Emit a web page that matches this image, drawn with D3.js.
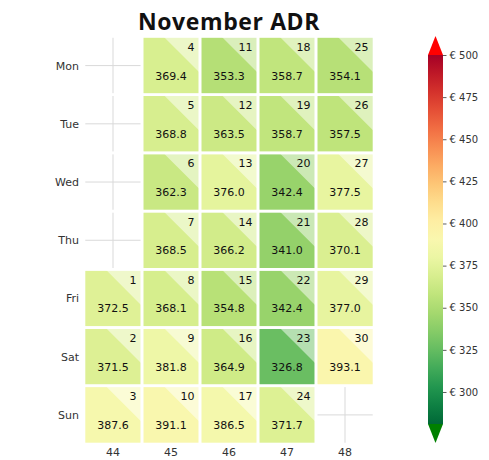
<!DOCTYPE html>
<html>
<head>
<meta charset="utf-8">
<script src="https://cdn.jsdelivr.net/npm/d3@7"></script>
<style>
  body { margin: 0; background: #fff; }
  svg { display: block; }
</style>
</head>
<body>
<svg id="chart" width="489" height="460"></svg>
<script>
// calendar data for November
const weeks = [44, 45, 46, 47, 48];
const weekdays = ["Mon", "Tue", "Wed", "Thu", "Fri", "Sat", "Sun"];
const dayNumbers = [1, 2, 3, 4, 5, 6, 7, 8, 9, 10, 11, 12, 13, 14, 15, 16, 17, 18, 19, 20, 21, 22, 23, 24, 25, 26, 27, 28, 29, 30];
const dayWeeks = [44, 44, 44, 45, 45, 45, 45, 45, 45, 45, 46, 46, 46, 46, 46, 46, 46, 47, 47, 47, 47, 47, 47, 47, 48, 48, 48, 48, 48, 48];
const dayWeekdays = ["Fri", "Sat", "Sun", "Mon", "Tue", "Wed", "Thu", "Fri", "Sat", "Sun", "Mon", "Tue", "Wed", "Thu", "Fri", "Sat", "Sun", "Mon", "Tue", "Wed", "Thu", "Fri", "Sat", "Sun", "Mon", "Tue", "Wed", "Thu", "Fri", "Sat"];
const adr = [372.5, 371.5, 387.6, 369.4, 368.8, 362.3, 368.5, 368.1, 381.8, 391.1, 353.3, 363.5, 376.0, 366.2, 354.8, 364.9, 386.5, 358.7, 358.7, 342.4, 341.0, 342.4, 326.8, 371.7, 354.1, 357.5, 377.5, 370.1, 377.0, 393.1];
const colorTicks = [300, 325, 350, 375, 400, 425, 450, 475, 500];
const colorMin = 281;
const colorMax = 500;

const days = dayNumbers.map((d, i) => ({
  day: d, week: dayWeeks[i], weekday: dayWeekdays[i], value: adr[i]
}));

const svg = d3.select("#chart");

const x = d3.scaleBand().domain(weeks).range([84, 374]);
const y = d3.scaleBand().domain(weekdays).range([36.5, 444]);
const color = d3.scaleSequential(t => d3.interpolateRdYlGn(1 - t)).domain([colorMin, colorMax]);

// title
svg.append("text")
  .attr("x", 229).attr("y", 29.5)
  .attr("text-anchor", "middle")
  .style("font-family", "'Open Sans', sans-serif")
  .style("font-weight", 700)
  .style("font-size", "23px")
  .style("letter-spacing", "0.6px")
  .attr("fill", "#111")
  .text("November ADR");

// grid lines behind cells
const grid = svg.append("g").attr("stroke", "#d9d9d9").attr("stroke-width", 1);
grid.selectAll("line.v").data(weeks).join("line")
  .attr("class", "v")
  .attr("x1", d => x(d) + x.bandwidth() / 2).attr("x2", d => x(d) + x.bandwidth() / 2)
  .attr("y1", y.range()[0]).attr("y2", y.range()[1]);
grid.selectAll("line.h").data(weekdays).join("line")
  .attr("class", "h")
  .attr("y1", d => y(d) + y.bandwidth() / 2).attr("y2", d => y(d) + y.bandwidth() / 2)
  .attr("x1", x.range()[0]).attr("x2", x.range()[1]);

// cells
const cells = svg.append("g").selectAll("g").data(days).join("g")
  .attr("transform", d => `translate(${x(d.week)},${y(d.weekday)})`);

const w = x.bandwidth(), h = y.bandwidth();

cells.append("rect")
  .attr("width", w).attr("height", h)
  .attr("fill", d => color(d.value));

cells.append("path")
  .attr("d", `M${w * 0.37},0L${w},0L${w},${w * 0.63}Z`)
  .attr("fill", "#fff")
  .attr("fill-opacity", 0.5);

// white borders for every slot, including empty ones
const slots = d3.cross(weeks, weekdays);
svg.append("g").selectAll("rect").data(slots).join("rect")
  .attr("x", d => x(d[0])).attr("y", d => y(d[1]))
  .attr("width", w).attr("height", h)
  .attr("fill", "none")
  .attr("stroke", "#fff")
  .attr("stroke-width", 2.6);

cells.append("text")
  .attr("x", w - 5.5).attr("y", 14.5)
  .attr("text-anchor", "end")
  .style("font-family", "DejaVu Sans, sans-serif")
  .style("font-size", "11px")
  .attr("fill", "#111")
  .text(d => d.day);

cells.append("text")
  .attr("x", w / 2).attr("y", 43)
  .attr("text-anchor", "middle")
  .style("font-family", "DejaVu Sans, sans-serif")
  .style("font-size", "11px")
  .attr("fill", "#111")
  .text(d => d.value.toFixed(1));

// axes labels
svg.append("g").selectAll("text").data(weekdays).join("text")
  .attr("x", 79).attr("y", d => y(d) + h / 2 + 4)
  .attr("text-anchor", "end")
  .style("font-family", "DejaVu Sans, sans-serif")
  .style("font-size", "11px")
  .attr("fill", "#333")
  .text(d => d);

svg.append("g").selectAll("text").data(weeks).join("text")
  .attr("x", d => x(d) + w / 2).attr("y", 456)
  .attr("text-anchor", "middle")
  .style("font-family", "DejaVu Sans, sans-serif")
  .style("font-size", "11px")
  .attr("fill", "#333")
  .text(d => d);

// colorbar
const cb = svg.append("g");
const cbX = 428, cbW = 15;
const cy = d3.scaleLinear().domain([colorMin, colorMax]).range([424, 55]);

const defs = svg.append("defs");
const grad = defs.append("linearGradient").attr("id", "cbgrad")
  .attr("x1", 0).attr("y1", 1).attr("x2", 0).attr("y2", 0);
d3.range(0, 1.0001, 0.05).forEach(t => {
  grad.append("stop").attr("offset", t)
    .attr("stop-color", color(colorMin + t * (colorMax - colorMin)));
});

cb.append("rect")
  .attr("x", cbX).attr("y", cy(colorMax))
  .attr("width", cbW).attr("height", cy(colorMin) - cy(colorMax))
  .attr("fill", "url(#cbgrad)");

cb.append("path")
  .attr("d", `M${cbX},${cy(colorMax)}L${cbX + cbW / 2},${cy(colorMax) - 19}L${cbX + cbW},${cy(colorMax)}Z`)
  .attr("fill", "red");
cb.append("path")
  .attr("d", `M${cbX},${cy(colorMin)}L${cbX + cbW / 2},${cy(colorMin) + 19}L${cbX + cbW},${cy(colorMin)}Z`)
  .attr("fill", "green");

const cbAxis = d3.axisRight(cy).tickValues(colorTicks).tickSize(3.5).tickPadding(3)
  .tickFormat(d => `€ ${d}`);
cb.append("g")
  .attr("transform", `translate(${cbX + cbW},0)`)
  .call(cbAxis)
  .call(g => g.select(".domain").remove())
  .call(g => g.selectAll("line").attr("stroke", "#333").attr("stroke-width", 0.8))
  .call(g => g.selectAll("text")
    .style("font-family", "DejaVu Sans, sans-serif")
    .style("font-size", "10px")
    .attr("fill", "#333"));
</script>
</body>
</html>
